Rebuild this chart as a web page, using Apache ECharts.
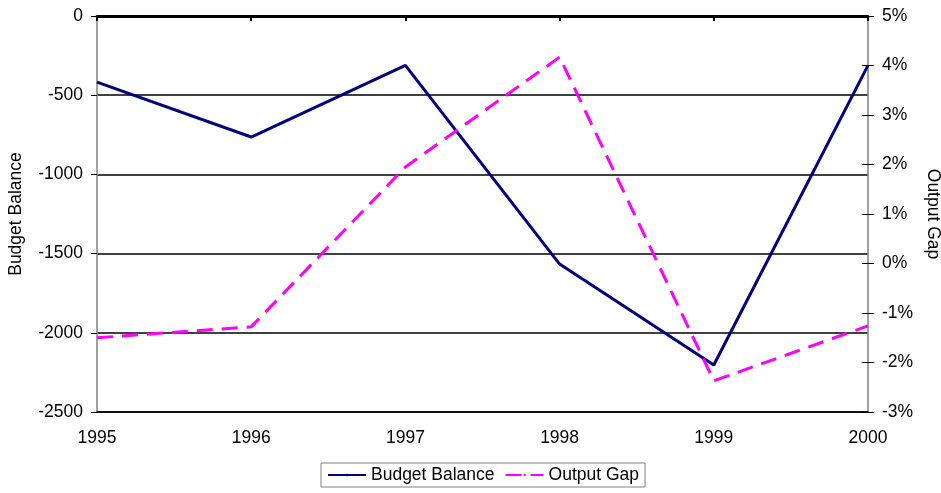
<!DOCTYPE html>
<html>
<head>
<meta charset="UTF-8">
<title>Budget Balance and Output Gap</title>
<script src="https://cdn.jsdelivr.net/npm/echarts@6/dist/echarts.min.js"></script>
<style>
  html, body { margin: 0; padding: 0; background: #fff; }
  #main { width: 941px; height: 493px; }
</style>
</head>
<body>
<div id="main"></div>
<script>
// data
var years = ['1995', '1996', '1997', '1998', '1999', '2000'];
var budgetBalance = [-418, -764, -312, -1566, -2203, -312];
var outputGap = [-1.5, -1.28, 1.95, 4.17, -2.37, -1.26];

var font = 'Liberation Sans, Arial, sans-serif';

var myChart = echarts.init(document.getElementById('main'));
var option = {
  animation: false,
  backgroundColor: '#fff',
  textStyle: { fontFamily: font },
  grid: { left: 97, right: 73, top: 16, bottom: 81, outerBoundsMode: 'none', containLabel: false },
  legend: {
    data: ['Budget Balance', 'Output Gap'],
    left: 321,
    top: 463,
    padding: [3, 6, 3, 6],
    itemWidth: 38,
    itemHeight: 3,
    itemGap: 10,
    borderColor: '#808080',
    borderWidth: 1,
    borderRadius: 0,
    textStyle: { fontSize: 17.5, color: '#000', fontFamily: font }
  },
  xAxis: [
    {
      type: 'category',
      data: years,
      position: 'bottom',
      boundaryGap: false,
      axisLine: { onZero: false, lineStyle: { color: '#000', width: 1.5 } },
      axisTick: { show: false },
      axisLabel: { fontSize: 17.5, color: '#000', margin: 17, fontFamily: font }
    },
    {
      type: 'category',
      data: years,
      position: 'top',
      boundaryGap: false,
      axisLine: { onZero: false, lineStyle: { color: '#000', width: 3 } },
      axisTick: { show: true, inside: true, length: 5, lineStyle: { color: '#000', width: 2 } },
      axisLabel: { show: false }
    }
  ],
  yAxis: [
    {
      type: 'value',
      name: 'Budget Balance',
      nameLocation: 'middle',
      nameGap: 72,
      nameTextStyle: { fontSize: 17.5, color: '#000', fontFamily: font },
      min: -2500,
      max: 0,
      interval: 500,
      axisLine: { show: true, lineStyle: { color: '#808080', width: 1.5 } },
      axisTick: { show: true, length: 6, lineStyle: { color: '#000' } },
      axisLabel: {
        fontSize: 17.5, color: '#000', margin: 14, fontFamily: font,
        formatter: function (v) { return String(v); }
      },
      splitLine: { show: true, lineStyle: { color: '#000', width: 1.5 } }
    },
    {
      type: 'value',
      name: 'Output Gap',
      nameLocation: 'middle',
      nameGap: 53,
      nameRotate: -90,
      nameTextStyle: { fontSize: 17.5, color: '#000', fontFamily: font },
      position: 'right',
      min: -3,
      max: 5,
      interval: 1,
      axisLine: { show: true, lineStyle: { color: '#808080', width: 1.5 } },
      axisTick: { show: true, length: 6, lineStyle: { color: '#000' } },
      axisLabel: { fontSize: 17.5, color: '#000', margin: 14, formatter: '{value}%', fontFamily: font },
      splitLine: { show: false }
    },
    {
      // inner half of the crossing ticks on the right axis
      type: 'value',
      position: 'right',
      min: -3,
      max: 5,
      interval: 1,
      axisLine: { show: false },
      axisTick: { show: true, inside: true, length: 6, lineStyle: { color: '#000' } },
      axisLabel: { show: false },
      splitLine: { show: false }
    }
  ],
  series: [
    {
      name: 'Budget Balance',
      type: 'line',
      data: budgetBalance,
      yAxisIndex: 0,
      symbol: 'none',
      lineStyle: { color: '#000080', width: 3 },
      itemStyle: { color: '#000080' }
    },
    {
      name: 'Output Gap',
      type: 'line',
      data: outputGap,
      yAxisIndex: 1,
      symbol: 'none',
      lineStyle: { color: '#FF00FF', width: 3, type: [16, 9] },
      itemStyle: { color: '#FF00FF' }
    }
  ]
};
myChart.setOption(option);
</script>
</body>
</html>
